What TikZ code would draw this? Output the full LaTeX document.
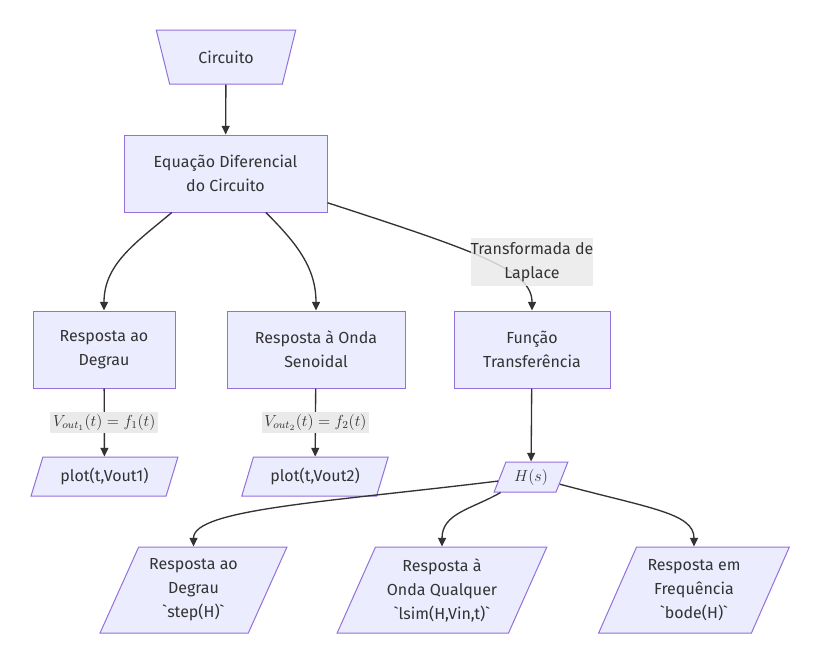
\documentclass[tikz,border=0pt]{standalone}
\usepackage{fontspec}
\setmainfont{Fira Sans}
\usetikzlibrary{shapes.geometric,arrows.meta}
\definecolor{boxfill}{HTML}{ECECFF}
\definecolor{boxline}{HTML}{9370DB}
\definecolor{ink}{HTML}{333333}
\definecolor{labelbg}{HTML}{EAEAEA}
\newcommand{\bq}{\textasciigrave}

\begin{document}
\begin{tikzpicture}[x=0.75pt,y=-0.75pt,font=\fontsize{12}{18}\selectfont,text=ink,
    box/.style={rectangle,draw=boxline,fill=boxfill,line width=0.75pt,align=center,minimum height=57.75pt,inner sep=0pt},
    lean/.style={trapezium,trapezium left angle=63.4,trapezium right angle=116.6,trapezium stretches=true,draw=boxline,fill=boxfill,line width=0.75pt,align=center,inner sep=0pt},
    trap/.style={trapezium,trapezium left angle=62.6,trapezium right angle=62.6,trapezium stretches=true,shape border rotate=180,draw=boxline,fill=boxfill,line width=0.75pt,inner sep=0pt},
    elab/.style={fill=labelbg,inner sep=2pt,align=center},
    flow/.style={->,draw=ink,line width=1pt},
    >={Triangle[length=6.5pt,width=6pt]}]
      \fill [white] (0,0) rectangle (820,654);
      \useasboundingbox (0,0) rectangle (820,654);
      \node (circ) at (226,57) [trap,minimum width=105pt,minimum height=40.5pt] {Circuito};
      \node (eq) at (225.5,173.5) [box,minimum width=152.25pt] {Equação Diferencial\\do Circuito};
      \node (deg) at (104,349.5) [box,minimum width=106.5pt] {Resposta ao\\Degrau};
      \node (sen) at (316,349.5) [box,minimum width=133.5pt] {Resposta à Onda\\Senoidal};
      \node (fun) at (532,349.5) [box,minimum width=117pt] {Função\\Transferência};
      \node (plotA) at (104.5,476.5) [lean,minimum width=110.25pt,minimum height=29.25pt] {plot(t,Vout1)};
      \node (plotB) at (315,476.5) [lean,minimum width=110.25pt,minimum height=29.25pt] {plot(t,Vout2)};
      \node (hs) at (531,477) [lean,minimum width=55.5pt,minimum height=22.5pt] {$H(s)$};
      \node (step) at (193.5,590) [lean,minimum width=140.25pt,minimum height=64.5pt] {Resposta ao\\Degrau\\\bq step(H)\bq};
      \node (lsim) at (442,590) [lean,minimum width=157.5pt,minimum height=64.5pt] {Resposta à\\Onda Qualquer\\\bq lsim(H,Vin,t)\bq};
      \node (bode) at (694,590) [lean,minimum width=143.25pt,minimum height=64.5pt] {Resposta em\\Frequência\\\bq bode(H)\bq};
      % ligações
      \draw [flow] (circ) to (eq);
      \draw [flow] (eq.216) to [out=-140,in=90] (deg.north);
      \draw [flow] (eq.-44) to [out=-45,in=90] (sen.north);
      \draw [flow] (eq.-16) to [out=-18,in=90,out distance=120pt,in distance=30pt] (fun.north);
      \node (lap) at (532,262) [elab,fill opacity=0.85,text opacity=1,minimum width=89.25pt,minimum height=36pt,inner sep=0pt] {Transformada de\\Laplace};
      \draw [flow] (deg) to node [elab] {$V_{out_1}(t) = f_1(t)$} (plotA);
      \draw [flow] (sen) to node [elab] {$V_{out_2}(t) = f_2(t)$} (plotB);
      \draw [flow] (fun) to (hs);
      \draw [flow] (hs.187) to [out=187,in=90,out distance=130pt,in distance=28pt] (step.north);
      \draw [flow] (hs.207) to [out=210,in=90,out distance=25pt,in distance=25pt] (lsim.north);
      \draw [flow] (hs.-14) to [out=-15,in=90,out distance=70pt,in distance=25pt] (bode.north);
    \end{tikzpicture}
\end{document}
